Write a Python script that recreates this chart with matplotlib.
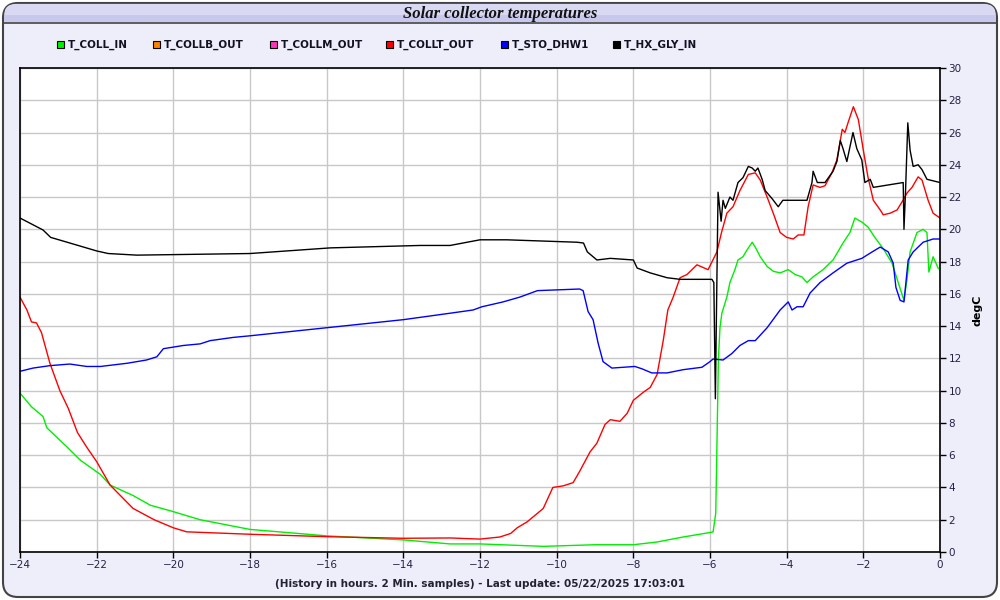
import numpy as np
import matplotlib
matplotlib.use("Agg")
import matplotlib.pyplot as plt
from matplotlib.patches import FancyBboxPatch, Rectangle

# series: hours before now, degC
t_coll_in_h = [-24, -23.7, -23.4, -23.3, -22.77, -22.43, -21.9, -21.65, -21.05, -20.6, -20.0,
               -19.3, -18.0, -16.0, -14.0, -12.78, -12.0, -10.35, -9.0, -8.0, -7.38, -6.7,
               -5.92, -5.85, -5.78, -5.74, -5.69, -5.56, -5.48, -5.35, -5.27, -5.14, -5.04,
               -4.9, -4.82, -4.69, -4.51, -4.35, -4.17, -3.96, -3.78, -3.6, -3.47, -3.31,
               -3.05, -2.79, -2.53, -2.35, -2.22, -2.04, -1.88, -1.7, -1.48, -1.25, -1.09,
               -0.94, -0.86, -0.78, -0.6, -0.44, -0.34, -0.29, -0.18, -0.05, 0]
t_coll_in = [9.85, 9.0, 8.4, 7.7, 6.5, 5.7, 4.8, 4.15, 3.5, 2.9, 2.5,
             2.0, 1.4, 1.0, 0.75, 0.5, 0.5, 0.35, 0.45, 0.45, 0.62, 0.93,
             1.24, 2.4, 12.0, 13.9, 14.8, 15.8, 16.7, 17.5, 18.1, 18.3, 18.7,
             19.2, 18.9, 18.3, 17.7, 17.4, 17.3, 17.5, 17.2, 17.05, 16.7, 17.05,
             17.5, 18.1, 19.15, 19.8, 20.7, 20.45, 20.15, 19.5, 18.8, 17.9, 16.7,
             15.6, 16.9, 18.6, 19.8, 20.0, 19.8, 17.35, 18.3, 17.6, 17.5]

t_collt_out_h = [-24, -23.82, -23.7, -23.57, -23.44, -23.22, -22.96, -22.74, -22.5, -22.26,
                 -22.0, -21.65, -21.05, -20.5, -20.0, -19.65, -18.0, -16.0, -14.0, -12.78,
                 -12.0, -11.48, -11.2, -11.03, -10.77, -10.5, -10.35, -10.1, -9.83, -9.57,
                 -9.4, -9.13, -8.95, -8.74, -8.6, -8.35, -8.16, -8.0, -7.74, -7.56, -7.38,
                 -7.22, -7.1, -6.96, -6.78, -6.6, -6.47, -6.34, -6.05, -5.82, -5.7, -5.56,
                 -5.4, -5.22, -5.0, -4.82, -4.69, -4.51, -4.35, -4.17, -4.0, -3.83, -3.7,
                 -3.55, -3.44, -3.31, -3.13, -3.0, -2.82, -2.69, -2.55, -2.48, -2.4, -2.26,
                 -2.13, -2.0, -1.88, -1.74, -1.56, -1.48, -1.3, -1.12, -0.99, -0.86, -0.73,
                 -0.57, -0.47, -0.31, -0.18, 0]
t_collt_out = [15.8, 15.0, 14.26, 14.2, 13.6, 11.7, 10.0, 8.9, 7.4, 6.5,
               5.6, 4.15, 2.7, 2.0, 1.5, 1.25, 1.1, 0.95, 0.85, 0.87,
               0.8, 0.93, 1.15, 1.5, 1.87, 2.4, 2.7, 4.0, 4.1, 4.3,
               5.0, 6.2, 6.75, 7.9, 8.2, 8.1, 8.6, 9.4, 9.9, 10.2, 11.0,
               13.1, 15.0, 15.8, 17.0, 17.2, 17.5, 17.8, 17.5, 18.6, 19.8, 21.0,
               21.4, 22.4, 23.4, 23.5, 23.06, 22.0, 21.0, 19.8, 19.5, 19.4, 19.65,
               19.65, 21.4, 22.75, 22.6, 22.7, 23.5, 24.3, 26.2, 26.0, 26.6, 27.6,
               26.8, 24.9, 23.25, 21.8, 21.2, 20.9, 21.0, 21.2, 21.7, 22.25, 22.6,
               23.25, 23.06, 21.8, 21.0, 20.7]

t_sto_dhw1_h = [-24, -23.66, -23.22, -22.7, -22.26, -21.9, -21.2, -20.7, -20.43, -20.26,
                -19.74, -19.3, -19.04, -18.44, -18.0, -16.0, -14.0, -12.78, -12.18, -11.95,
                -11.4, -10.96, -10.5, -9.4, -9.31, -9.18, -9.05, -8.92, -8.79, -8.56, -7.96,
                -7.77, -7.52, -7.12, -6.7, -6.21, -6.0, -5.92, -5.66, -5.43, -5.22, -5.0,
                -4.82, -4.51, -4.17, -3.96, -3.86, -3.73, -3.57, -3.39, -3.13, -2.79, -2.43,
                -2.04, -1.77, -1.56, -1.35, -1.22, -1.15, -1.04, -0.94, -0.83, -0.7, -0.44,
                -0.18, 0]
t_sto_dhw1 = [11.2, 11.4, 11.55, 11.65, 11.5, 11.5, 11.7, 11.9, 12.1, 12.6,
              12.8, 12.9, 13.1, 13.3, 13.4, 13.9, 14.4, 14.8, 15.0, 15.2,
              15.5, 15.8, 16.2, 16.3, 16.2, 14.9, 14.4, 12.96, 11.8, 11.4, 11.5,
              11.35, 11.1, 11.1, 11.3, 11.45, 11.8, 11.96, 11.9, 12.3, 12.8, 13.1,
              13.1, 13.9, 15.0, 15.5, 15.0, 15.2, 15.2, 16.05, 16.7, 17.3, 17.9,
              18.2, 18.6, 18.9, 18.6, 17.9, 16.4, 15.6, 15.5, 18.1, 18.6, 19.2,
              19.4, 19.4]

t_hx_gly_in_h = [-24, -23.4, -23.2, -22.77, -22.0, -21.7, -20.95, -18.0, -15.9, -13.56,
                 -12.78, -12.0, -11.3, -9.47, -9.3, -9.2, -8.95, -8.6, -8.0, -7.9, -7.56,
                 -7.12, -6.78, -5.95, -5.9, -5.86, -5.82, -5.79, -5.71, -5.66, -5.6, -5.48,
                 -5.4, -5.27, -5.14, -5.0, -4.9, -4.82, -4.75, -4.64, -4.56, -4.38, -4.22,
                 -4.1, -3.83, -3.47, -3.34, -3.31, -3.2, -3.0, -2.79, -2.69, -2.6, -2.53,
                 -2.43, -2.27, -2.17, -2.04, -1.96, -1.82, -1.74, -0.96, -0.94, -0.9, -0.84,
                 -0.78, -0.7, -0.57, -0.47, -0.34, 0]
t_hx_gly_in = [20.7, 19.96, 19.5, 19.2, 18.66, 18.5, 18.4, 18.5, 18.85, 19.0,
               19.0, 19.35, 19.35, 19.2, 19.15, 18.6, 18.1, 18.2, 18.1, 17.6, 17.3,
               17.0, 16.9, 16.9, 16.7, 9.5, 16.9, 22.3, 20.5, 21.8, 21.3, 22.0,
               21.8, 22.9, 23.2, 23.9, 23.8, 23.6, 23.8, 23.1, 22.4, 21.9, 21.4,
               21.8, 21.8, 21.8, 22.9, 23.6, 22.9, 22.9, 23.6, 24.2, 25.5, 25.0,
               24.2, 26.0, 25.0, 24.3, 22.9, 23.1, 22.6, 22.9, 20.0, 22.3, 26.6,
               24.9, 23.9, 24.0, 23.7, 23.1, 22.9]

labels = ["T_COLL_IN", "T_COLLB_OUT", "T_COLLM_OUT", "T_COLLT_OUT", "T_STO_DHW1", "T_HX_GLY_IN"]
colors = ["#00ee00", "#ff8000", "#ff33bb", "#ff0000", "#0000ff", "#000000"]
series = [(t_coll_in_h, t_coll_in), None, None,
          (t_collt_out_h, t_collt_out), (t_sto_dhw1_h, t_sto_dhw1), (t_hx_gly_in_h, t_hx_gly_in)]

bg = "#eeeefb"
fig = plt.figure(figsize=(10, 6), dpi=100)
fig.patch.set_facecolor("white")

# rounded frame and title bar
frame = FancyBboxPatch((0.003, 0.005), 0.994, 0.99, boxstyle="round,pad=0,rounding_size=0.015",
                       transform=fig.transFigure, facecolor=bg, edgecolor="#444444", lw=1.5,
                       mutation_aspect=1.67, zorder=-3)
fig.patches.append(frame)
bar = FancyBboxPatch((0.004, 0.9635), 0.992, 0.03, boxstyle="round,pad=0,rounding_size=0.012",
                     transform=fig.transFigure, facecolor="#d9d9f3", edgecolor="none",
                     mutation_aspect=1.67, zorder=-2)
fig.patches.append(bar)
fig.patches.append(Rectangle((0.004, 0.963), 0.992, 0.012, transform=fig.transFigure,
                             facecolor="#c8c8ec", edgecolor="none", zorder=-2))
fig.add_artist(plt.Line2D([0.003, 0.997], [0.9625, 0.9625], color="#444444", lw=1.2))
fig.text(0.5, 0.977, "Solar collector temperatures", ha="center", va="center",
         family="Liberation Serif", fontsize=12, fontweight="bold", style="italic", color="#111111")

ax = fig.add_axes([0.02, 0.08, 0.92, 0.8067])
ax.set_zorder(5)
ax.set_facecolor("white")
for (s, c) in zip(series, colors):
    if s is not None:
        ax.plot(s[0], s[1], color=c, lw=1.0)

ax.set_xlim(-24, 0)
ax.set_ylim(0, 30)
ax.set_xticks(np.arange(-24, 1, 2))
ax.set_yticks(np.arange(0, 31, 2))
ax.grid(True, color="#c8c8c8", lw=1)
ax.yaxis.tick_right()
ax.yaxis.set_label_position("right")
ax.tick_params(axis="both", direction="out", length=4, width=1, colors="black",
               labelcolor="#222244", labelsize=7.5, pad=2)
for sp in ax.spines.values():
    sp.set_color("black")
    sp.set_linewidth(1.2)
ax.set_ylabel("degC", fontsize=8, fontweight="bold", labelpad=8)
ax.set_xlabel("(History in hours. 2 Min. samples) - Last update: 05/22/2025 17:03:01",
              fontsize=7.5, fontweight="bold", color="#222233", labelpad=6)

# legend
leg_x = [0.057, 0.153, 0.270, 0.386, 0.501, 0.613]
for x, lab, c in zip(leg_x, labels, colors):
    fig.patches.append(Rectangle((x, 0.920), 0.007, 0.0117, transform=fig.transFigure,
                                 facecolor=c, edgecolor="black", lw=0.8))
    fig.text(x + 0.0105, 0.926, lab, ha="left", va="center", fontsize=7.5,
             fontweight="bold", color="#111122")

fig.savefig("out.png", dpi=100, facecolor=fig.get_facecolor())
